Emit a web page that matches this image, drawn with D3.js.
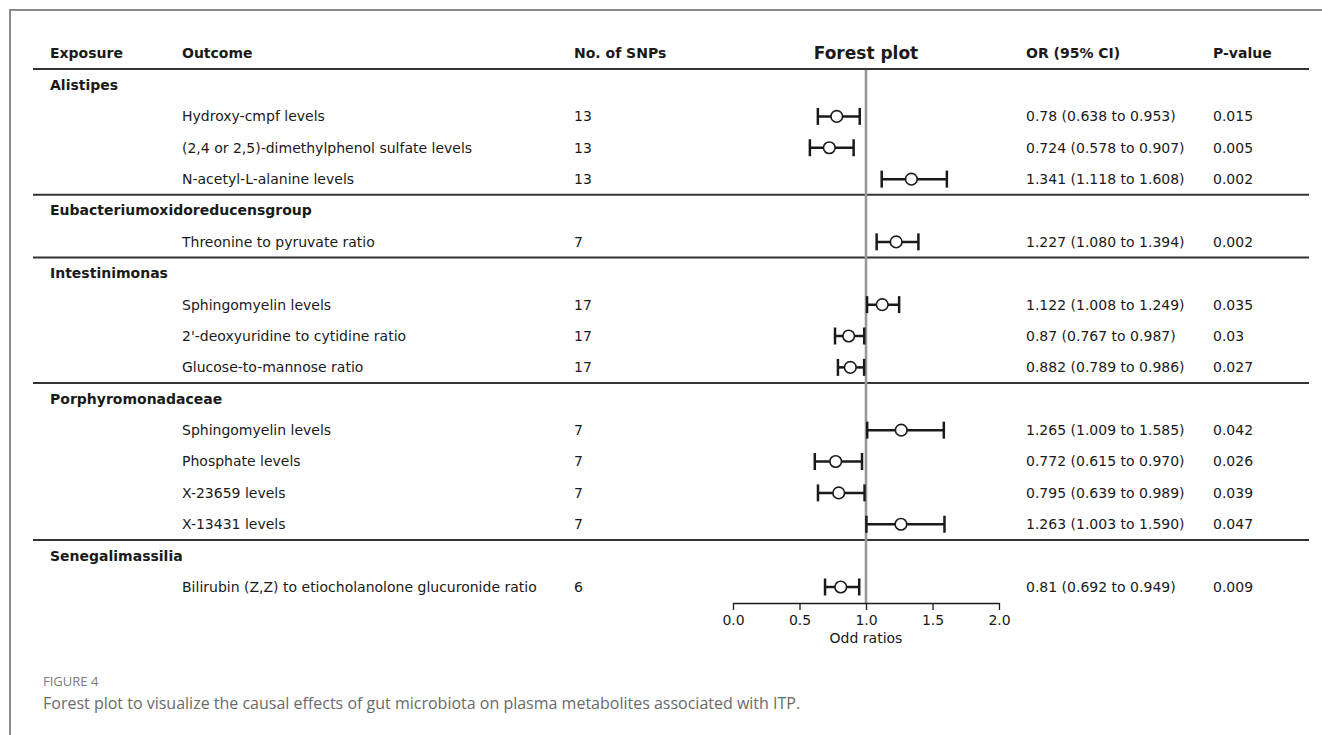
<!DOCTYPE html>
<html>
<head>
<meta charset="utf-8">
<script src="https://cdn.jsdelivr.net/npm/d3@7"></script>
<style>
  html, body { margin: 0; padding: 0; background: #fff; }
  #chart { width: 1322px; height: 735px; }
</style>
</head>
<body>
<div id="chart"></div>
<script>
// groups (exposure) and the rows under them
var exposures = ["Alistipes", "Eubacteriumoxidoreducensgroup", "Intestinimonas", "Porphyromonadaceae", "Senegalimassilia"];
var groupSizes = [3, 1, 3, 4, 1];
var outcomes = [
  "Hydroxy-cmpf levels",
  "(2,4 or 2,5)-dimethylphenol sulfate levels",
  "N-acetyl-L-alanine levels",
  "Threonine to pyruvate ratio",
  "Sphingomyelin levels",
  "2'-deoxyuridine to cytidine ratio",
  "Glucose-to-mannose ratio",
  "Sphingomyelin levels",
  "Phosphate levels",
  "X-23659 levels",
  "X-13431 levels",
  "Bilirubin (Z,Z) to etiocholanolone glucuronide ratio"
];
var snps = [13, 13, 13, 7, 17, 17, 17, 7, 7, 7, 7, 6];
var orEst = [0.78, 0.724, 1.341, 1.227, 1.122, 0.87, 0.882, 1.265, 0.772, 0.795, 1.263, 0.81];
var orLow = [0.638, 0.578, 1.118, 1.080, 1.008, 0.767, 0.789, 1.009, 0.615, 0.639, 1.003, 0.692];
var orHigh = [0.953, 0.907, 1.608, 1.394, 1.249, 0.987, 0.986, 1.585, 0.970, 0.989, 1.590, 0.949];
var orText = [
  "0.78 (0.638 to 0.953)", "0.724 (0.578 to 0.907)", "1.341 (1.118 to 1.608)",
  "1.227 (1.080 to 1.394)", "1.122 (1.008 to 1.249)", "0.87 (0.767 to 0.987)",
  "0.882 (0.789 to 0.986)", "1.265 (1.009 to 1.585)", "0.772 (0.615 to 0.970)",
  "0.795 (0.639 to 0.989)", "1.263 (1.003 to 1.590)", "0.81 (0.692 to 0.949)"
];
var pvals = ["0.015", "0.005", "0.002", "0.002", "0.035", "0.03", "0.027", "0.042", "0.026", "0.039", "0.047", "0.009"];
var headers = ["Exposure", "Outcome", "No. of SNPs", "Forest plot", "OR (95% CI)", "P-value"];
var xTicks = [0, 0.5, 1, 1.5, 2];

var W = 1322, H = 735;
var font = "'DejaVu Sans', sans-serif";
var fs = "14px";
var col = { exp: 50, out: 182, snp: 574, or: 1026, p: 1213 };
var lineL = 33, lineR = 1309;

var svg = d3.select("#chart").append("svg")
  .attr("width", W).attr("height", H)
  .attr("font-family", font);

// frame
svg.append("path")
  .attr("d", "M10," + H + " V10 H" + W)
  .attr("fill", "none").attr("stroke", "#8a8a8a").attr("stroke-width", 2);

// flatten rows: group headers + items
var rows = [], k = 0;
exposures.forEach(function(e, g) {
  rows.push({ type: "group", label: e, g: g });
  for (var i = 0; i < groupSizes[g]; i++) {
    rows.push({ type: "item", idx: k, g: g });
    k++;
  }
});

var y = d3.scaleLinear().domain([0, rows.length - 1]).range([85, 587]);
var x = d3.scaleLinear().domain([0, 2]).range([733, 999]);

// header
var headX = [col.exp, col.out, col.snp, x(1), col.or, col.p];
svg.selectAll(".head").data(headers).enter().append("text")
  .attr("class", "head")
  .attr("x", function(d, i) { return headX[i]; })
  .attr("y", 53)
  .attr("dy", "0.35em")
  .attr("text-anchor", function(d, i) { return i === 3 ? "middle" : "start"; })
  .attr("font-weight", "bold")
  .attr("font-size", function(d, i) { return i === 3 ? "17px" : fs; })
  .attr("fill", "#1a1a1a")
  .text(function(d) { return d; });

// separator lines
var seps = [69];
var r0 = 0;
groupSizes.forEach(function(n, g) {
  r0 += n + 1;
  if (g < groupSizes.length - 1) seps.push((y(r0 - 1) + y(r0)) / 2);
});
svg.selectAll(".sep").data(seps).enter().append("line")
  .attr("x1", lineL).attr("x2", lineR)
  .attr("y1", function(d) { return d; }).attr("y2", function(d) { return d; })
  .attr("stroke", "#333").attr("stroke-width", 2);

// reference line at OR = 1
svg.append("line")
  .attr("x1", x(1)).attr("x2", x(1))
  .attr("y1", 70).attr("y2", y(rows.length - 1) + 16)
  .attr("stroke", "#999").attr("stroke-width", 2.6);

// group labels
svg.selectAll(".grp").data(rows.filter(function(r) { return r.type === "group"; }))
  .enter().append("text")
  .attr("x", col.exp)
  .attr("y", function(d) { return y(rows.indexOf(d)); })
  .attr("dy", "0.35em")
  .attr("font-weight", "bold").attr("font-size", fs).attr("fill", "#1a1a1a")
  .text(function(d) { return d.label; });

var items = rows.filter(function(r) { return r.type === "item"; });
var g = svg.selectAll(".item").data(items).enter().append("g")
  .attr("class", "item")
  .attr("transform", function(d) { return "translate(0," + y(rows.indexOf(d)) + ")"; });

function txt(sel, xx, f) {
  sel.append("text").attr("x", xx).attr("dy", "0.35em")
    .attr("font-size", fs).attr("fill", "#1a1a1a").text(f);
}
txt(g, col.out, function(d) { return outcomes[d.idx]; });
txt(g, col.snp, function(d) { return snps[d.idx]; });
txt(g, col.or, function(d) { return orText[d.idx]; });
txt(g, col.p, function(d) { return pvals[d.idx]; });

// CI whiskers
g.append("line")
  .attr("x1", function(d) { return x(orLow[d.idx]); })
  .attr("x2", function(d) { return x(orHigh[d.idx]); })
  .attr("stroke", "#1a1a1a").attr("stroke-width", 2.5);
[orLow, orHigh].forEach(function(arr) {
  g.append("line")
    .attr("x1", function(d) { return x(arr[d.idx]); })
    .attr("x2", function(d) { return x(arr[d.idx]); })
    .attr("y1", -8.5).attr("y2", 8.5)
    .attr("stroke", "#1a1a1a").attr("stroke-width", 2.5);
});
g.append("circle")
  .attr("cx", function(d) { return x(orEst[d.idx]); })
  .attr("r", 5.8)
  .attr("fill", "#fff").attr("stroke", "#1a1a1a").attr("stroke-width", 1.6);

// x axis
var axisY = y(rows.length - 1) + 16;
var ax = svg.append("g")
  .attr("transform", "translate(0," + axisY + ")")
  .call(d3.axisBottom(x).tickValues(xTicks).tickFormat(d3.format(".1f")).tickSizeInner(7).tickSizeOuter(0).tickPadding(5));
ax.select(".domain").attr("stroke", "#1a1a1a").attr("stroke-width", 1.3);
ax.selectAll(".tick line").attr("stroke", "#1a1a1a").attr("stroke-width", 1.3);
ax.selectAll(".tick text").attr("font-family", font).attr("font-size", fs).attr("fill", "#1a1a1a");
svg.append("text")
  .attr("x", x(1)).attr("y", 638).attr("dy", "0.35em")
  .attr("text-anchor", "middle").attr("font-size", fs).attr("fill", "#1a1a1a")
  .text("Odd ratios");

// caption
svg.append("text")
  .attr("x", 43).attr("y", 681).attr("dy", "0.35em")
  .attr("font-family", "'Open Sans', sans-serif").attr("font-size", "13px")
  .attr("fill", "#7a7a7a")
  .text("FIGURE 4");
svg.append("text")
  .attr("x", 43).attr("y", 703).attr("dy", "0.35em")
  .attr("font-family", "'Open Sans', sans-serif").attr("font-size", "16px")
  .attr("fill", "#6a6a6a")
  .text("Forest plot to visualize the causal effects of gut microbiota on plasma metabolites associated with ITP.");
</script>
</body>
</html>
